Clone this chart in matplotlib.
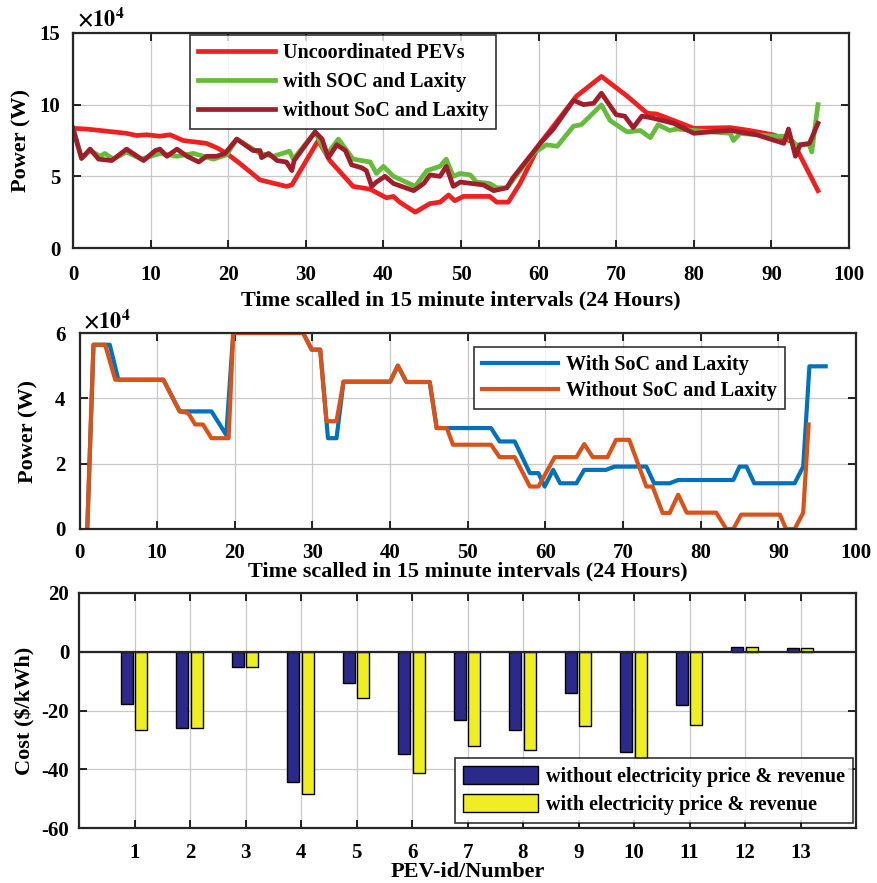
import numpy as np
import matplotlib
matplotlib.use("Agg")
import matplotlib.pyplot as plt

plt.rcParams['font.family'] = ['Liberation Serif', 'DejaVu Serif']
plt.rcParams['font.weight'] = 'bold'
plt.rcParams['axes.labelweight'] = 'bold'
plt.rcParams['axes.unicode_minus'] = False
plt.rcParams['mathtext.fontset'] = 'stix'

# top panel: grid power, values in 1e4 W
t_unc = [0, 1.7, 3.5, 6.9, 8.2, 9.5, 11.2, 12.5, 14.2, 17.2, 18.5, 19.8, 21.5, 24.1, 27.5, 28.2,
         31.6, 33.1, 36.1, 38.3, 40.4, 41.3, 42.1, 44.1, 46, 47.3, 48.4, 49.2, 50.3, 53.7, 54.6,
         56.1, 57.6, 60.2, 64.9, 68.1, 71.4, 74, 75.2, 77.4, 80, 84.7, 87.2, 90.2, 92.8, 96]
p_unc = [8.35, 8.3, 8.2, 8.0, 7.85, 7.9, 7.8, 7.9, 7.5, 7.3, 7.0, 6.6, 5.9, 4.75, 4.3, 4.4,
         7.5, 6.1, 4.3, 4.1, 3.5, 3.6, 3.2, 2.5, 3.1, 3.2, 3.7, 3.3, 3.6, 3.6, 3.2,
         3.2, 4.5, 7.3, 10.6, 11.97, 10.6, 9.4, 9.35, 8.9, 8.35, 8.4, 8.2, 7.9, 7.4, 4.0]

t_soc = [0, 1.1, 2.2, 3.5, 4.1, 5.2, 6.9, 8.8, 11.2, 13.4, 15.5, 18.1, 19.8, 21.1, 24.1, 25.8,
         27.9, 28.4, 31.2, 32.7, 34.2, 36.1, 38.3, 39.1, 40, 41.3, 44.1, 45.6, 47.3, 48.1, 49,
         49.9, 51.2, 52.0, 53.7, 54.6, 55.9, 56.5, 59.3, 61, 62.4, 64.5, 65.5, 68.1, 69.2, 71.4,
         73.1, 74.4, 75.4, 76.9, 77.8, 80, 84.7, 85.1, 86, 90.2, 91.9, 93.2, 94.9, 95.2, 96]
p_soc = [8.35, 6.25, 6.8, 6.4, 6.6, 6.2, 6.7, 6.2, 6.6, 6.4, 6.6, 6.2, 6.5, 7.6, 6.6, 6.4,
         6.75, 6.2, 8.1, 6.5, 7.6, 6.2, 6.0, 5.2, 5.7, 5.0, 4.3, 5.4, 5.7, 6.2, 5.0,
         5.2, 5.1, 4.6, 4.5, 4.2, 4.2, 4.6, 6.6, 7.2, 7.1, 8.5, 8.6, 9.98, 8.9, 8.1,
         8.2, 7.7, 8.6, 8.2, 8.3, 8.2, 8.0, 7.5, 8.0, 7.8, 7.8, 7.2, 7.2, 6.7, 10.0]

t_nosoc = [0, 1.1, 2.2, 3.3, 5.0, 6.9, 9.1, 10.6, 11.2, 12.1, 13.4, 14.7, 16.2, 17.2, 18.5,
           19.6, 21.1, 23.2, 24.1, 24.3, 25.2, 26.3, 27.5, 28.2, 28.5, 31.2, 32.1, 32.9, 34,
           35.1, 35.9, 37.2, 37.8, 38.5, 39.1, 40.2, 41.3, 43.9, 45.2, 46, 47.3, 48.1, 49, 49.9,
           52.9, 54.2, 55.9, 56.7, 60.2, 61.9, 64.5, 65.8, 67.1, 68.1, 70, 71.1, 72.2, 73.3,
           74.4, 77.4, 80, 82.1, 84.7, 88.1, 91.6, 92.2, 93.1, 93.7, 94.9, 96]
p_nosoc = [8.35, 6.25, 6.9, 6.2, 6.1, 6.9, 6.1, 6.8, 6.9, 6.4, 6.9, 6.4, 6.0, 6.4, 6.4,
           6.6, 7.6, 6.8, 6.8, 6.3, 6.6, 6.1, 6.0, 5.4, 6.1, 8.1, 7.6, 6.3, 7.2,
           6.8, 5.8, 5.6, 5.4, 4.3, 4.6, 5.0, 4.5, 4.0, 4.5, 5.1, 5.0, 5.7, 4.3, 4.6,
           4.4, 4.0, 4.2, 4.9, 7.3, 8.3, 10.3, 10.0, 10.1, 10.8, 9.3, 9.2, 8.4, 9.2,
           9.1, 8.7, 8.0, 8.1, 8.2, 7.9, 7.3, 8.3, 6.4, 7.2, 7.3, 8.7]

# middle panel: charging power, values in 1e4 W
t_with = [1, 1.8, 3.9, 5.0, 10.8, 12.9, 17.0, 18.9, 19.8, 28.8, 29.9, 31.0, 32.0, 33.1, 34.0,
          40.0, 41.0, 42.1, 45.1, 46.0, 53.0, 54.1, 56.05, 58.0, 59.1, 59.9, 61.0, 61.9, 64.0,
          65.0, 67.8, 68.9, 73.0, 74.0, 76.0, 77.1, 84.2, 85.0, 85.9, 86.9, 92.1, 93.2, 94.0, 96.1]
p_with = [0, 5.64, 5.64, 4.57, 4.57, 3.6, 3.6, 2.88, 6.0, 6.0, 5.49, 5.49, 2.78, 2.78, 4.51,
          4.51, 5.0, 4.5, 4.5, 3.09, 3.09, 2.68, 2.68, 1.71, 1.71, 1.3, 1.81, 1.4, 1.4,
          1.81, 1.81, 1.91, 1.91, 1.4, 1.4, 1.5, 1.5, 1.91, 1.91, 1.4, 1.4, 1.91, 4.98, 4.98]

t_without = [1, 1.8, 3.3, 4.6, 10.8, 12.9, 14.0, 14.9, 15.9, 17.0, 19.2, 19.8, 28.8, 29.9,
             31.0, 31.8, 33.1, 34.0, 40.0, 41.0, 42.1, 45.1, 46.0, 47.3, 48.1, 53.0, 54.1,
             56.05, 58.0, 59.1, 61.2, 64.0, 65.0, 66.1, 68.0, 69.1, 70.8, 73.0, 73.8, 75.1,
             76.0, 77.1, 78.2, 82.0, 83.3, 84.2, 85.2, 90.2, 91.0, 92.1, 93.2, 93.9]
p_without = [0, 5.64, 5.64, 4.57, 4.57, 3.6, 3.55, 3.2, 3.2, 2.78, 2.78, 6.0, 6.0, 5.49,
             5.49, 3.3, 3.3, 4.51, 4.51, 5.0, 4.5, 4.5, 3.09, 3.09, 2.58, 2.58, 2.2,
             2.2, 1.3, 1.3, 2.2, 2.2, 2.6, 2.2, 2.2, 2.73, 2.73, 1.3, 1.3, 0.49,
             0.49, 1.05, 0.5, 0.5, 0, 0, 0.44, 0.44, 0, 0, 0.5, 3.2]

# bottom panel: cost per PEV
pev_ids = np.arange(1, 14)
cost_without = [-17.8, -25.9, -5.3, -44.4, -10.8, -34.7, -23.2, -26.8, -14.2, -34.1, -18.0, 1.7, 1.4]
cost_with = [-26.5, -25.8, -5.3, -48.5, -15.9, -41.3, -32.0, -33.4, -25.3, -36.2, -24.9, 1.7, 1.4]

W, H = 877, 883
fig = plt.figure(figsize=(W / 100, H / 100), dpi=100)


def box(l, t, r, b):
    return [l / W, 1 - b / H, (r - l) / W, (b - t) / H]


def style(ax):
    ax.tick_params(direction='in', top=True, right=True, labelsize=15, length=6, width=1.2)
    ax.grid(True, color='#c8c8c8', lw=0.9)
    ax.set_axisbelow(True)
    for s in ax.spines.values():
        s.set_linewidth(1.6)
        s.set_color('#262626')


def legend(ax, **kw):
    lg = ax.legend(fontsize=14.5, frameon=True, fancybox=False, edgecolor='black',
                   borderpad=0.4, handletextpad=0.4, borderaxespad=0, **kw)
    lg.get_frame().set_linewidth(1.2)
    return lg


xlab = 'Time scalled in 15 minute intervals (24 Hours)'

# top
ax1 = fig.add_axes(box(73, 33, 849, 248))
style(ax1)
ax1.plot(t_unc, p_unc, color='#ee2020', lw=3.4, label='Uncoordinated PEVs')
ax1.plot(t_soc, p_soc, color='#66bb3c', lw=3.4, label='with SOC and Laxity')
ax1.plot(t_nosoc, p_nosoc, color='#a11d2b', lw=3.4, label='without SoC and Laxity')
ax1.set_xlim(0, 100)
ax1.set_ylim(0, 15)
ax1.set_xticks(range(0, 101, 10))
ax1.set_yticks([0, 5, 10, 15])
ax1.tick_params(axis='x', pad=12)
ax1.tick_params(axis='y', pad=9)
ax1.set_xlabel(xlab, fontsize=16, labelpad=4)
ax1.set_ylabel('Power (W)', fontsize=16, labelpad=6)
ax1.text(0.005, 1.01, r'$\times10^4$', transform=ax1.transAxes, fontsize=16, va='bottom')
legend(ax1, loc='upper left', bbox_to_anchor=(0.151, 0.99), handlelength=3.8,
       labelspacing=0.45)

# middle
ax2 = fig.add_axes(box(79.5, 333, 856, 529))
style(ax2)
ax2.plot(t_with, p_with, color='#0072bd', lw=3.0, label='With SoC and Laxity')
ax2.plot(t_without, p_without, color='#d95319', lw=3.0, label='Without SoC and Laxity')
ax2.set_xlim(0, 100)
ax2.set_ylim(0, 6)
ax2.set_xticks(range(0, 101, 10))
ax2.set_yticks([0, 2, 4, 6])
ax2.tick_params(axis='x', pad=10)
ax2.tick_params(axis='y', pad=10)
ax2.set_xlabel(xlab, fontsize=16, labelpad=-1)
ax2.set_ylabel('Power (W)', fontsize=16, labelpad=12)
ax2.text(0.005, 1.0, r'$\times10^4$', transform=ax2.transAxes, fontsize=16, va='bottom')
legend(ax2, loc='upper right', bbox_to_anchor=(0.909, 0.93), handlelength=3.8,
       labelspacing=0.3)

# bottom
ax3 = fig.add_axes(box(79, 593, 856, 828))
style(ax3)
bw = 0.22
ax3.bar(pev_ids - 0.14, cost_without, width=bw, color='#2b2a8a', edgecolor='black', lw=1.0,
        label='without electricity price & revenue')
ax3.bar(pev_ids + 0.12, cost_with, width=bw, color='#eeee22', edgecolor='black', lw=1.0,
        label='with electricity price & revenue')
ax3.axhline(0, color='#262626', lw=1.6)
ax3.set_xlim(0, 14)
ax3.set_ylim(-60, 20)
ax3.set_xticks(pev_ids)
ax3.set_yticks([-60, -40, -20, 0, 20])
ax3.tick_params(axis='x', pad=11)
ax3.tick_params(axis='y', pad=7)
ax3.set_xlabel('PEV-id/Number', fontsize=16, labelpad=-1)
ax3.set_ylabel('Cost ($/kWh)', fontsize=16, labelpad=4)
legend(ax3, loc='lower right', bbox_to_anchor=(0.996, 0.022), handlelength=3.7,
       handleheight=1.0, labelspacing=0.35)

fig.savefig('out.png', dpi=100)
